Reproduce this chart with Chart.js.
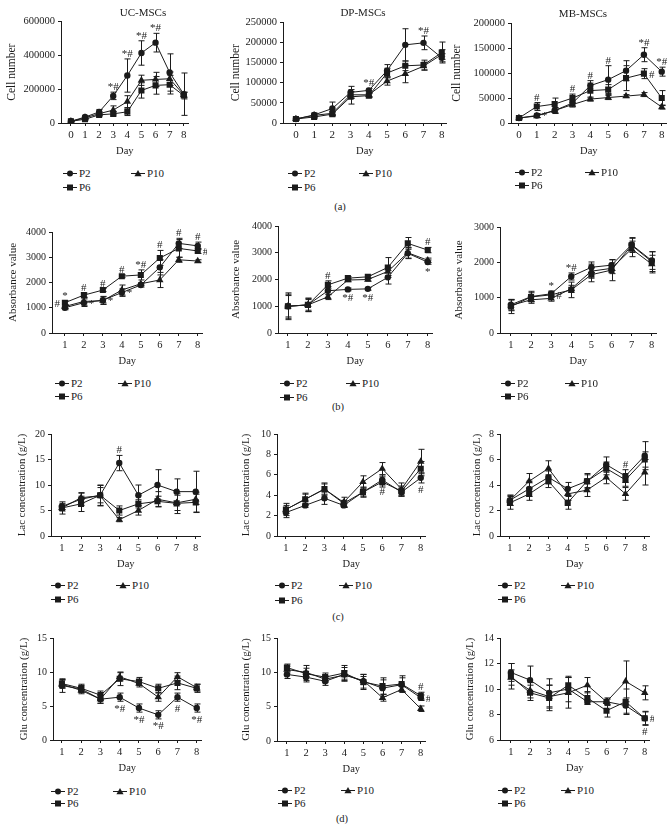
<!DOCTYPE html>
<html lang="en">
<head>
<meta charset="UTF-8">
<title>MSC growth, absorbance, lactate and glucose</title>
<script src="https://cdn.jsdelivr.net/npm/chart.js@4"></script>
<style>
  body { margin:0; background:#fff; width:671px; height:834px; position:relative; overflow:hidden;
         font-family:"Liberation Serif","DejaVu Serif",serif; color:#1b1b1b; }
  canvas.plot { position:absolute; }
  .txt { position:absolute; white-space:nowrap; transform:translate(-50%,-50%); line-height:1; }
  .leg { position:absolute; display:flex; align-items:center; font-size:11px; line-height:1; transform:translateY(-50%); white-space:nowrap; }
  .leg svg { display:block; margin-right:1px; }
</style>
</head>
<body>
<script>
// ---- data ----
const days0 = [0, 1, 2, 3, 4, 5, 6, 7, 8];
const days1 = [1, 2, 3, 4, 5, 6, 7, 8];
const seriesNames = ['P2', 'P6', 'P10'];
const seriesShapes = ['circle', 'rect', 'triangle'];

// (a) cell number
const cellUC_P2 = [10000, 35000, 65000, 160000, 280000, 413000, 474000, 298000, 170000];
const cellUC_P2_sd = [3000, 6000, 15000, 22000, 98000, 72000, 55000, 110000, 125000];
const cellUC_P6 = [10000, 22000, 48000, 54000, 66000, 192000, 222000, 226000, 162000];
const cellUC_P6_sd = [3000, 5000, 8000, 12000, 22000, 45000, 52000, 55000, 20000];
const cellUC_P10 = [10000, 30000, 55000, 76000, 126000, 252000, 257000, 261000, 166000];
const cellUC_P10_sd = [3000, 6000, 10000, 25000, 35000, 30000, 42000, 40000, 15000];
const cellUC_marks = [[0, 3, '*#', 'up'], [0, 4, '*#', 'up'], [0, 5, '*#', 'up'], [0, 6, '*#', 'up']];

const cellDP_P2 = [10000, 20000, 36000, 76000, 81000, 130000, 194000, 199000, 162000];
const cellDP_P2_sd = [2000, 5000, 16000, 15000, 5000, 15000, 40000, 17000, 10000];
const cellDP_P6 = [10000, 15000, 22000, 65000, 68000, 124000, 142000, 144000, 175000];
const cellDP_P6_sd = [2000, 4000, 5000, 18000, 5000, 12000, 12000, 12000, 26000];
const cellDP_P10 = [10000, 19000, 24000, 70000, 70000, 104000, 122000, 141000, 170000];
const cellDP_P10_sd = [2000, 4000, 5000, 8000, 5000, 10000, 22000, 10000, 12000];
const cellDP_marks = [[0, 4, '*#', 'up'], [0, 7, '*#', 'up']];

const cellMB_P2 = [10000, 15000, 25000, 40000, 75000, 87000, 105000, 137000, 103000];
const cellMB_P2_sd = [1500, 4000, 6000, 6000, 10000, 28000, 20000, 14000, 9000];
const cellMB_P6 = [10000, 33000, 38000, 50000, 65000, 67000, 90000, 99000, 50000];
const cellMB_P6_sd = [1500, 8000, 12000, 8000, 15000, 10000, 25000, 10000, 15000];
const cellMB_P10 = [10000, 14000, 25000, 37000, 48000, 51000, 54000, 57000, 32000];
const cellMB_P10_sd = [1500, 3000, 5000, 5000, 4000, 4000, 3000, 4000, 4000];
const cellMB_marks = [[1, 1, '#', 'up'], [0, 1, '*', 'right'], [1, 3, '#', 'up'], [0, 4, '#', 'up'],
                      [0, 5, '#', 'up'], [0, 7, '*#', 'up'], [1, 7, '#', 'right'], [0, 8, '*#', 'up']];

// (b) absorbance
const absUC_P2 = [1000, 1200, 1300, 1600, 1900, 2600, 3550, 3450];
const absUC_P2_sd = [80, 150, 150, 150, 80, 300, 200, 150];
const absUC_P6 = [1200, 1500, 1700, 2250, 2300, 2970, 3350, 3250];
const absUC_P6_sd = [80, 80, 60, 60, 200, 300, 350, 100];
const absUC_P10 = [1050, 1250, 1280, 1700, 1950, 2100, 2900, 2850];
const absUC_P10_sd = [80, 150, 150, 200, 50, 300, 100, 50];
const absUC_marks = [[1, 0, '#', 'left'], [1, 0, '*', 'up'], [1, 1, '#', 'up'], [0, 1, '*', 'right'],
                     [1, 2, '#', 'up'], [0, 2, '*', 'right'], [1, 3, '#', 'up'], [0, 3, '*', 'right'],
                     [1, 4, '*#', 'up'], [1, 5, '#', 'up'], [0, 6, '#', 'up'], [0, 7, '#', 'up'], [1, 7, '#', 'right']];

const absDP_P2 = [1000, 1050, 1580, 1630, 1650, 2080, 2980, 2650];
const absDP_P2_sd = [500, 250, 150, 50, 50, 250, 200, 80];
const absDP_P6 = [1000, 1050, 1800, 2050, 2100, 2450, 3350, 3100];
const absDP_P6_sd = [450, 250, 150, 60, 60, 370, 220, 100];
const absDP_P10 = [1000, 1050, 1350, 1980, 2000, 2300, 3000, 2720];
const absDP_P10_sd = [400, 200, 100, 60, 60, 150, 200, 80];
const absDP_marks = [[1, 2, '#', 'up'], [0, 3, '*#', 'down'], [0, 4, '*#', 'down'], [1, 7, '#', 'up'], [0, 7, '*', 'down']];

const absMB_P2 = [800, 1030, 1110, 1600, 1860, 1920, 2500, 2050];
const absMB_P2_sd = [150, 150, 80, 100, 150, 150, 200, 250];
const absMB_P6 = [750, 1020, 1080, 1220, 1650, 1780, 2480, 2020];
const absMB_P6_sd = [200, 120, 80, 220, 200, 300, 200, 280];
const absMB_P10 = [780, 940, 980, 1250, 1750, 1830, 2380, 1950];
const absMB_P10_sd = [150, 100, 80, 100, 200, 150, 220, 250];
const absMB_marks = [[0, 2, '*', 'up'], [1, 2, '#', 'right'], [0, 3, '*#', 'up']];

// (c) lactate
const lacUC_P2 = [5.8, 7.2, 8.0, 14.3, 8.0, 10.0, 8.7, 8.7];
const lacUC_P2_sd = [0.6, 1.2, 2.0, 1.5, 2.0, 3.0, 2.5, 4.0];
const lacUC_P6 = [5.5, 6.3, 8.0, 5.0, 6.3, 6.8, 6.4, 6.6];
const lacUC_P6_sd = [0.6, 1.5, 1.5, 0.9, 0.8, 1.0, 2.0, 2.0];
const lacUC_P10 = [5.5, 7.5, 7.9, 3.2, 5.0, 7.2, 6.5, 7.2];
const lacUC_P10_sd = [1.2, 1.0, 2.0, 0.4, 0.9, 1.5, 1.5, 1.0];
const lacUC_marks = [[0, 3, '#', 'up']];

const lacDP_P2 = [2.3, 3.0, 3.7, 3.0, 4.3, 5.5, 4.3, 5.7];
const lacDP_P2_sd = [0.5, 0.2, 0.6, 0.2, 0.4, 0.5, 0.4, 0.5];
const lacDP_P6 = [2.6, 3.6, 4.6, 3.2, 4.3, 5.3, 4.4, 6.6];
const lacDP_P6_sd = [0.6, 0.6, 0.6, 0.3, 0.5, 0.5, 0.5, 0.7];
const lacDP_P10 = [2.6, 3.6, 4.6, 3.3, 5.3, 6.6, 4.6, 7.3];
const lacDP_P10_sd = [0.4, 0.5, 0.5, 0.5, 0.6, 0.6, 0.6, 1.2];
const lacDP_marks = [[0, 5, '#', 'down'], [0, 7, '#', 'down']];

const lacMB_P2 = [2.8, 3.7, 4.6, 3.7, 4.3, 5.6, 4.7, 6.3];
const lacMB_P2_sd = [0.4, 0.6, 0.5, 0.5, 0.6, 0.6, 0.5, 1.1];
const lacMB_P6 = [2.6, 3.3, 4.3, 2.6, 4.3, 5.3, 4.4, 6.0];
const lacMB_P6_sd = [0.5, 0.5, 0.5, 0.5, 0.5, 0.5, 0.5, 0.6];
const lacMB_P10 = [2.8, 4.3, 5.3, 3.3, 3.6, 4.6, 3.3, 5.0];
const lacMB_P10_sd = [0.4, 0.6, 0.6, 0.5, 0.5, 0.5, 0.5, 1.0];
const lacMB_marks = [[0, 6, '#', 'up']];

// (d) glucose
const gluUC_P2 = [8.0, 7.5, 6.0, 6.3, 4.7, 3.7, 6.3, 4.7];
const gluUC_P2_sd = [1.0, 0.5, 0.6, 0.6, 0.6, 0.6, 0.6, 0.6];
const gluUC_P6 = [8.3, 7.6, 6.6, 9.0, 8.6, 7.6, 8.4, 7.6];
const gluUC_P6_sd = [0.6, 0.6, 0.6, 1.0, 0.6, 0.6, 1.0, 0.6];
const gluUC_P10 = [8.2, 7.3, 6.0, 9.3, 8.3, 6.3, 9.3, 7.7];
const gluUC_P10_sd = [0.6, 0.5, 0.6, 0.6, 0.5, 0.6, 0.6, 0.5];
const gluUC_marks = [[0, 3, '*#', 'down'], [0, 4, '*#', 'down'], [0, 5, '*#', 'down'], [0, 6, '#', 'down'], [0, 7, '*#', 'down']];

const gluDP_P2 = [9.7, 9.3, 8.7, 9.7, 8.7, 7.7, 8.2, 6.3];
const gluDP_P2_sd = [0.6, 0.5, 0.6, 1.0, 1.0, 1.2, 1.0, 0.4];
const gluDP_P6 = [10.7, 9.8, 9.3, 9.9, 8.6, 8.0, 8.3, 6.6];
const gluDP_P6_sd = [0.5, 1.2, 0.6, 1.1, 1.1, 1.2, 1.2, 0.5];
const gluDP_P10 = [10.4, 10.0, 9.0, 9.6, 8.8, 6.3, 7.5, 4.7];
const gluDP_P10_sd = [0.5, 0.6, 0.5, 0.6, 0.6, 0.5, 0.4, 0.4];
const gluDP_marks = [[1, 7, '#', 'up'], [0, 7, '#', 'right']];

const gluMB_P2 = [11.3, 10.7, 9.7, 10.0, 9.0, 9.0, 8.7, 7.7];
const gluMB_P2_sd = [0.7, 1.1, 1.1, 1.0, 0.2, 0.3, 0.6, 0.5];
const gluMB_P6 = [11.0, 9.7, 9.3, 10.3, 9.3, 8.3, 9.0, 7.7];
const gluMB_P6_sd = [1.0, 0.6, 1.0, 0.6, 0.5, 0.5, 1.0, 0.55];
const gluMB_P10 = [10.9, 9.9, 9.4, 9.7, 10.3, 9.0, 10.6, 9.7];
const gluMB_P10_sd = [0.6, 0.6, 0.9, 1.2, 0.6, 0.2, 1.6, 0.55];
const gluMB_marks = [[1, 7, '#', 'right'], [0, 7, '#', 'down']];

const colTitles = ['UC-MSCs', 'DP-MSCs', 'MB-MSCs'];
const rowLetters = ['(a)', '(b)', '(c)', '(d)'];

// ---- panels ----
const panels = [
  { id: 'cellUC', yt: 'Cell number', days: days0, ymin: 0, ymax: 600000, step: 200000, s: [[cellUC_P2, cellUC_P2_sd], [cellUC_P6, cellUC_P6_sd], [cellUC_P10, cellUC_P10_sd]], marks: cellUC_marks },
  { id: 'cellDP', yt: 'Cell number', days: days0, ymin: 0, ymax: 250000, step: 50000, s: [[cellDP_P2, cellDP_P2_sd], [cellDP_P6, cellDP_P6_sd], [cellDP_P10, cellDP_P10_sd]], marks: cellDP_marks },
  { id: 'cellMB', yt: 'Cell number', days: days0, ymin: 0, ymax: 200000, step: 50000, s: [[cellMB_P2, cellMB_P2_sd], [cellMB_P6, cellMB_P6_sd], [cellMB_P10, cellMB_P10_sd]], marks: cellMB_marks },
  { id: 'absUC', yt: 'Absorbance value', days: days1, ymin: 0, ymax: 4000, step: 1000, s: [[absUC_P2, absUC_P2_sd], [absUC_P6, absUC_P6_sd], [absUC_P10, absUC_P10_sd]], marks: absUC_marks },
  { id: 'absDP', yt: 'Absorbance value', days: days1, ymin: 0, ymax: 4000, step: 1000, s: [[absDP_P2, absDP_P2_sd], [absDP_P6, absDP_P6_sd], [absDP_P10, absDP_P10_sd]], marks: absDP_marks },
  { id: 'absMB', yt: 'Absorbance value', days: days1, ymin: 0, ymax: 3000, step: 1000, s: [[absMB_P2, absMB_P2_sd], [absMB_P6, absMB_P6_sd], [absMB_P10, absMB_P10_sd]], marks: absMB_marks },
  { id: 'lacUC', yt: 'Lac concentration (g/L)', days: days1, ymin: 0, ymax: 20, step: 5, s: [[lacUC_P2, lacUC_P2_sd], [lacUC_P6, lacUC_P6_sd], [lacUC_P10, lacUC_P10_sd]], marks: lacUC_marks },
  { id: 'lacDP', yt: 'Lac concentration (g/L)', days: days1, ymin: 0, ymax: 10, step: 2, s: [[lacDP_P2, lacDP_P2_sd], [lacDP_P6, lacDP_P6_sd], [lacDP_P10, lacDP_P10_sd]], marks: lacDP_marks },
  { id: 'lacMB', yt: 'Lac concentration (g/L)', days: days1, ymin: 0, ymax: 8, step: 2, s: [[lacMB_P2, lacMB_P2_sd], [lacMB_P6, lacMB_P6_sd], [lacMB_P10, lacMB_P10_sd]], marks: lacMB_marks },
  { id: 'gluUC', yt: 'Glu concentration (g/L)', days: days1, ymin: 0, ymax: 15, step: 5, s: [[gluUC_P2, gluUC_P2_sd], [gluUC_P6, gluUC_P6_sd], [gluUC_P10, gluUC_P10_sd]], marks: gluUC_marks },
  { id: 'gluDP', yt: 'Glu concentration (g/L)', days: days1, ymin: 0, ymax: 15, step: 5, s: [[gluDP_P2, gluDP_P2_sd], [gluDP_P6, gluDP_P6_sd], [gluDP_P10, gluDP_P10_sd]], marks: gluDP_marks },
  { id: 'gluMB', yt: 'Glu concentration (g/L)', days: days1, ymin: 6, ymax: 14, step: 2, s: [[gluMB_P2, gluMB_P2_sd], [gluMB_P6, gluMB_P6_sd], [gluMB_P10, gluMB_P10_sd]], marks: gluMB_marks }
];

// page placement: y axis x, plot top/bottom, first/last day x, y-title centre, legend
const layout = {
  cellUC: { ax: 61, top: 20, bottom: 123, x0: 71, x1: 185, tx: 12, ts: 11.5, fs: 10.5, lx: 70, lx2: 138, ly: 173, ly2: 187 },
  cellDP: { ax: 283, top: 21, bottom: 123, x0: 296, x1: 443, tx: 236, ts: 11.5, fs: 10.5, lx: 295, lx2: 366, ly: 173, ly2: 187 },
  cellMB: { ax: 511, top: 22, bottom: 123, x0: 519, x1: 663, tx: 457, ts: 11.5, fs: 10.5, lx: 522, lx2: 592, ly: 172, ly2: 185 },
  absUC: { ax: 52, top: 231, bottom: 333, x0: 65, x1: 199, tx: 14, ts: 11, fs: 10, lx: 62, lx2: 125, ly: 383, ly2: 396 },
  absDP: { ax: 278, top: 225, bottom: 333, x0: 288, x1: 429, tx: 237, ts: 11, fs: 10, lx: 287, lx2: 353, ly: 383, ly2: 397 },
  absMB: { ax: 500, top: 226, bottom: 333, x0: 511, x1: 653, tx: 460, ts: 11, fs: 10, lx: 508, lx2: 572, ly: 383, ly2: 396 },
  lacUC: { ax: 51, top: 433, bottom: 536, x0: 62, x1: 197, tx: 22, ts: 10.8, fs: 10, lx: 58, lx2: 123, ly: 585, ly2: 599 },
  lacDP: { ax: 277, top: 433, bottom: 536, x0: 286, x1: 422, tx: 246, ts: 10.8, fs: 10, lx: 282, lx2: 346, ly: 585, ly2: 600 },
  lacMB: { ax: 500, top: 433, bottom: 536, x0: 510, x1: 646, tx: 477, ts: 10.8, fs: 10, lx: 505, lx2: 568, ly: 585, ly2: 599 },
  gluUC: { ax: 53, top: 637, bottom: 740, x0: 62, x1: 198, tx: 24, ts: 10.8, fs: 10, lx: 58, lx2: 120, ly: 791, ly2: 803 },
  gluDP: { ax: 277, top: 637, bottom: 741, x0: 287, x1: 422, tx: 246, ts: 10.8, fs: 10, lx: 285, lx2: 348, ly: 790, ly2: 803 },
  gluMB: { ax: 500, top: 637, bottom: 740, x0: 511, x1: 646, tx: 470, ts: 10.8, fs: 10, lx: 505, lx2: 568, ly: 790, ly2: 803 }
};

const INK = '#1b1b1b';
const SERIF = '"Liberation Serif", "DejaVu Serif", serif';
const PAD_T = 8, PAD_R = 3, HX = 35;

// vertical SD bars with caps
const errorBars = {
  id: 'errorBars',
  afterDatasetsDraw(chart) {
    const { ctx, scales: { x, y } } = chart;
    ctx.save();
    ctx.strokeStyle = INK;
    ctx.lineWidth = 1;
    chart.data.datasets.forEach(ds => {
      ds.data.forEach((pt, j) => {
        const e = ds.errors[j];
        if (!e) return;
        const px = Math.round(x.getPixelForValue(pt.x)) + 0.5;
        const yt = y.getPixelForValue(pt.y + e);
        const yb = y.getPixelForValue(pt.y - e);
        ctx.beginPath();
        ctx.moveTo(px, yt); ctx.lineTo(px, yb);
        ctx.moveTo(px - 3, yt); ctx.lineTo(px + 3, yt);
        ctx.moveTo(px - 3, yb); ctx.lineTo(px + 3, yb);
        ctx.stroke();
      });
    });
    ctx.restore();
  }
};

// * and # significance marks
const sigMarks = {
  id: 'sigMarks',
  afterDatasetsDraw(chart) {
    const { ctx, scales: { x, y } } = chart;
    const marks = chart.data.sigMarks || [];
    ctx.save();
    ctx.fillStyle = INK;
    ctx.font = '11px ' + SERIF;
    marks.forEach(([si, di, text, where]) => {
      const ds = chart.data.datasets[si];
      const pt = ds.data[di];
      const e = ds.errors[di] || 0;
      const px = x.getPixelForValue(pt.x);
      if (where === 'up') {
        ctx.textAlign = 'center'; ctx.textBaseline = 'alphabetic';
        ctx.fillText(text, px, y.getPixelForValue(pt.y + e) - 2);
      } else if (where === 'down') {
        ctx.textAlign = 'center'; ctx.textBaseline = 'top';
        ctx.fillText(text, px, y.getPixelForValue(pt.y - e) + 2);
      } else if (where === 'right') {
        ctx.textAlign = 'left'; ctx.textBaseline = 'middle';
        ctx.fillText(text, px + 5, y.getPixelForValue(pt.y) + 1);
      } else {
        ctx.textAlign = 'right'; ctx.textBaseline = 'middle';
        ctx.fillText(text, px - 5, y.getPixelForValue(pt.y) + 1);
      }
    });
    ctx.restore();
  }
};

function addText(text, x, y, size) {
  const d = document.createElement('div');
  d.className = 'txt';
  d.style.left = x + 'px';
  d.style.top = y + 'px';
  d.style.fontSize = size + 'px';
  d.textContent = text;
  document.body.appendChild(d);
}

function iconSvg(shape) {
  let m;
  if (shape === 'circle') m = '<circle cx="8" cy="5" r="3" fill="' + INK + '"/>';
  else if (shape === 'rect') m = '<rect x="5" y="2" width="6" height="6" fill="' + INK + '"/>';
  else m = '<polygon points="8,1.5 11.6,7.8 4.4,7.8" fill="' + INK + '"/>';
  return '<svg width="16" height="10"><line x1="1" y1="5" x2="15" y2="5" stroke="' + INK + '" stroke-width="1"/>' + m + '</svg>';
}

function addLegend(L) {
  const spots = [[L.lx, L.ly], [L.lx, L.ly2], [L.lx2, L.ly]];
  seriesNames.forEach((name, i) => {
    const d = document.createElement('div');
    d.className = 'leg';
    d.style.left = (spots[i][0] - 8) + 'px';
    d.style.top = spots[i][1] + 'px';
    d.innerHTML = iconSvg(seriesShapes[i]) + '<span>' + name + '</span>';
    document.body.appendChild(d);
  });
}

panels.forEach(p => {
  const L = layout[p.id];
  const left = Math.round(L.tx - L.ts * 0.6);
  const wy = L.ax - left;
  const n = p.days.length;
  const sp = (L.x1 - L.x0) / (n - 1);
  const width = wy + (L.x1 + 5 - L.ax) + PAD_R;
  const height = PAD_T + (L.bottom - L.top) + HX;

  const cv = document.createElement('canvas');
  cv.className = 'plot';
  cv.width = width; cv.height = height;
  cv.style.width = width + 'px'; cv.style.height = height + 'px';
  cv.style.left = left + 'px';
  cv.style.top = (L.top - PAD_T) + 'px';
  document.body.appendChild(cv);

  const datasets = p.s.map(([vals, sd], i) => ({
    label: seriesNames[i],
    data: p.days.map((d, j) => ({ x: d, y: vals[j] })),
    errors: sd,
    borderColor: INK,
    backgroundColor: INK,
    borderWidth: 1,
    pointStyle: seriesShapes[i],
    pointRadius: i === 0 ? 3.2 : 4.3,
    pointBorderWidth: 0,
    tension: 0
  }));

  const axisCommon = {
    grid: { drawOnChartArea: false, drawTicks: true, tickLength: 3, color: INK },
    border: { display: true, color: INK, width: 1 }
  };

  new Chart(cv, {
    type: 'line',
    data: { datasets, sigMarks: p.marks },
    options: {
      responsive: false,
      animation: false,
      layout: { padding: { top: PAD_T, right: PAD_R, left: 0, bottom: 0 } },
      plugins: { legend: { display: false }, tooltip: { enabled: false } },
      scales: {
        x: {
          ...axisCommon,
          type: 'linear',
          min: p.days[0] - (L.x0 - L.ax) / sp,
          max: p.days[n - 1] + 5 / sp,
          afterBuildTicks: s => { s.ticks = p.days.map(v => ({ value: v })); },
          afterFit: s => { s.height = HX; },
          ticks: { color: INK, font: { family: SERIF, size: L.fs + 0.5 }, padding: 3, autoSkip: false, maxRotation: 0 },
          title: { display: true, text: 'Day', color: INK, font: { family: SERIF, size: 10.5 }, padding: 0 }
        },
        y: {
          ...axisCommon,
          min: p.ymin,
          max: p.ymax,
          afterFit: s => { s.width = wy; },
          ticks: { stepSize: p.step, color: INK, font: { family: SERIF, size: L.fs }, padding: 3, callback: v => String(v) },
          title: { display: true, text: p.yt, color: INK, font: { family: SERIF, size: L.ts }, padding: 0 }
        }
      }
    },
    plugins: [errorBars, sigMarks]
  });

  addLegend(L);
});

addText(colTitles[0], 143, 12, 11);
addText(colTitles[1], 363, 12, 11);
addText(colTitles[2], 583, 13, 11);
addText(rowLetters[0], 340, 207, 10.5);
addText(rowLetters[1], 338, 407, 10.5);
addText(rowLetters[2], 338, 617, 10.5);
addText(rowLetters[3], 342, 819, 10.5);
</script>
</body>
</html>
